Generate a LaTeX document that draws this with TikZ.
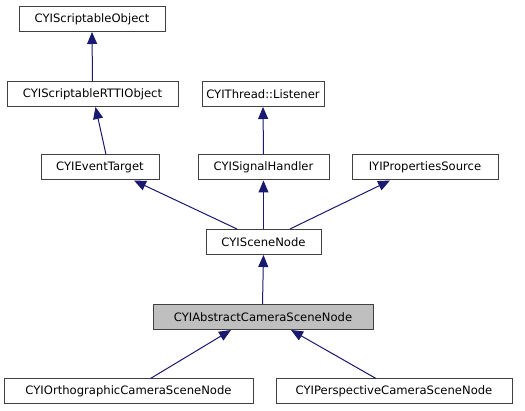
\documentclass[tikz,border=0pt]{standalone}
\usepackage{fontspec}
\setmainfont{DejaVu Sans}
\usetikzlibrary{arrows.meta}
\definecolor{edgeblue}{HTML}{191970}
\begin{document}
\begin{tikzpicture}[x=1pt,y=-1pt,
  cls/.style={draw=black!75, line width=1pt, fill=white, minimum height=25pt, inner sep=0pt,
    font=\fontsize{11.6}{14}\selectfont},
  cur/.style={cls, fill=black!25},
  arr/.style={draw=edgeblue, line width=1pt, -{Triangle[length=12pt,width=10pt]}}]
\useasboundingbox (0,0) rectangle (525,411);
\node[cls, minimum width=146pt] (so)   at (92,19)      {CYIScriptableObject};
\node[cls, minimum width=171pt] (rtti) at (92.5,94)    {CYIScriptableRTTIObject};
\node[cls, minimum width=122pt] (thr)  at (263,94)     {CYIThread::Listener};
\node[cls, minimum width=118pt] (evt)  at (100,167.5)  {CYIEventTarget};
\node[cls, minimum width=131pt] (sig)  at (263.5,167.5){CYISignalHandler};
\node[cls, minimum width=146pt] (prop) at (425,167.5)  {IYIPropertiesSource};
\node[cls, minimum width=115pt] (scn)  at (263.5,242)  {CYISceneNode};
\node[cur, minimum width=220pt] (abs)  at (263,317)    {CYIAbstractCameraSceneNode};
\node[cls, minimum width=249pt] (orth) at (128.5,391.5){CYIOrthographicCameraSceneNode};
\node[cls, minimum width=236pt] (pers) at (394,391.5)  {CYIPerspectiveCameraSceneNode};
\draw[arr] (rtti.north) -- (so.south);
\draw[arr] ([xshift=6pt]evt.north) -- ([xshift=3pt]rtti.south);
\draw[arr] (sig.north) -- (thr.south);
\draw[arr] ([xshift=-26.5pt]scn.north) -- ([xshift=34pt]evt.south);
\draw[arr] (scn.north) -- (sig.south);
\draw[arr] ([xshift=26.5pt]scn.north) -- ([xshift=-35pt]prop.south);
\draw[arr] ([xshift=-0.5pt]abs.north) -- (scn.south);
\draw[arr] ([xshift=22pt]orth.north) -- ([xshift=-32pt]abs.south);
\draw[arr] ([xshift=-18pt]pers.north) -- ([xshift=28pt]abs.south);
\end{tikzpicture}
\end{document}
